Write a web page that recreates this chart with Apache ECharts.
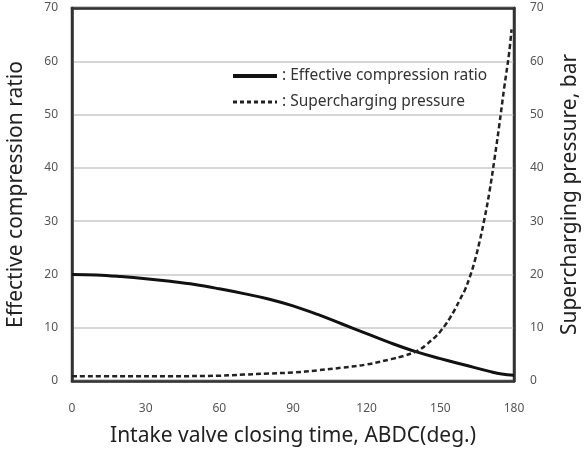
<!DOCTYPE html>
<html>
<head>
<meta charset="utf-8">
<script src="https://cdn.jsdelivr.net/npm/echarts@6/dist/echarts.min.js"></script>
<style>html,body{margin:0;padding:0;background:#fff}#c{width:588px;height:450px}</style>
</head>
<body>
<div id="c"></div>
<script>
var ratioX = [0, 10, 20, 30, 40, 50, 60, 70, 80, 90, 100, 110, 120, 130, 140, 150, 160, 170, 175, 180];
var ratioY = [20.0, 19.9, 19.6, 19.2, 18.7, 18.1, 17.3, 16.4, 15.4, 14.1, 12.5, 10.7, 8.9, 7.1, 5.5, 4.2, 3.0, 1.8, 1.3, 1.1];
var pressX = [0, 20, 40, 60, 70, 80, 90, 100, 110, 120, 130, 135, 140, 142, 144, 146, 148, 150, 152, 154, 156, 158, 160, 162, 164, 166, 168, 170, 172, 174, 176, 178, 179];
var pressY = [0.9, 0.9, 0.9, 1.0, 1.2, 1.4, 1.6, 2.0, 2.5, 3.1, 4.1, 4.7, 5.5, 6.0, 6.7, 7.5, 8.3, 9.3, 10.5, 11.9, 13.5, 15.3, 17.1, 19.5, 22.5, 26.2, 30.5, 35.5, 41.5, 48, 55, 61.5, 66];
var xTicks = [0, 30, 60, 90, 120, 150, 180];
var yTicks = [0, 10, 20, 30, 40, 50, 60, 70];

function pairs(xs, ys) { return xs.map(function (x, i) { return [x, ys[i]]; }); }

var font = 'Noto Sans';
var frame = { show: true, onZero: false, lineStyle: { color: '#333', width: 2.5 } };
var chart = echarts.init(document.getElementById('c'));
chart.setOption({
  animation: false,
  textStyle: { fontFamily: font },
  grid: { left: 72, right: 74, top: 8, bottom: 69, outerBoundsMode: 'none', containLabel: false,
    show: true, borderColor: '#333', borderWidth: 2.5, backgroundColor: '#fff' },
  legend: {
    orient: 'vertical', left: 226, top: 63, itemWidth: 44, itemHeight: 14, itemGap: 10,
    formatter: function (n) { return ': ' + n; },
    itemStyle: { opacity: 0 },
    textStyle: { fontFamily: font, fontSize: 15.5, color: '#333' },
    data: [
      { name: 'Effective compression ratio', lineStyle: { width: 4, color: '#111' } },
      { name: 'Supercharging pressure', lineStyle: { width: 3, color: '#222', type: [4, 3] } }
    ]
  },
  xAxis: [{
    type: 'value', min: 0, max: 180, interval: 30,
    name: 'Intake valve closing time, ABDC(deg.)', nameLocation: 'middle', nameGap: 45,
    nameTextStyle: { fontSize: 21, color: '#222', fontFamily: font },
    axisLine: frame, axisTick: { show: false }, splitLine: { show: false },
    axisLabel: { fontSize: 12, color: '#555', margin: 22, fontFamily: font,
      formatter: function (v) { return xTicks.indexOf(v) >= 0 ? String(v) : ''; } }
  }, {
    type: 'value', min: 0, max: 180, interval: 30, position: 'top',
    axisLine: frame, axisTick: { show: false }, splitLine: { show: false }, axisLabel: { show: false }
  }],
  yAxis: [{
    type: 'value', min: 0, max: 70, interval: 10, position: 'left',
    name: 'Effective compression ratio', nameLocation: 'middle', nameGap: 45,
    nameTextStyle: { fontSize: 21, color: '#222', fontFamily: font },
    axisLine: frame, axisTick: { show: false },
    splitLine: { show: true, lineStyle: { color: '#c8c8c8', width: 1.5 } },
    axisLabel: { fontSize: 12, color: '#555', margin: 14, fontFamily: font,
      formatter: function (v) { return yTicks.indexOf(v) >= 0 ? String(v) : ''; } }
  }, {
    type: 'value', min: 0, max: 70, interval: 10, position: 'right',
    name: 'Supercharging pressure, bar', nameLocation: 'middle', nameGap: 46,
    nameTextStyle: { fontSize: 21, color: '#222', fontFamily: font },
    axisLine: frame, axisTick: { show: false }, splitLine: { show: false },
    axisLabel: { fontSize: 12, color: '#555', margin: 16, fontFamily: font,
      formatter: function (v) { return yTicks.indexOf(v) >= 0 ? String(v) : ''; } }
  }],
  series: [{
    name: 'Effective compression ratio', type: 'line', smooth: 0.4, symbol: 'none', yAxisIndex: 0,
    lineStyle: { color: '#111', width: 3 }, itemStyle: { color: '#111' },
    data: pairs(ratioX, ratioY)
  }, {
    name: 'Supercharging pressure', type: 'line', smooth: 0.4, symbol: 'none', yAxisIndex: 1,
    lineStyle: { color: '#222', width: 2.5, type: [5, 3] }, itemStyle: { color: '#222' },
    data: pairs(pressX, pressY)
  }]
});
</script>
</body>
</html>
